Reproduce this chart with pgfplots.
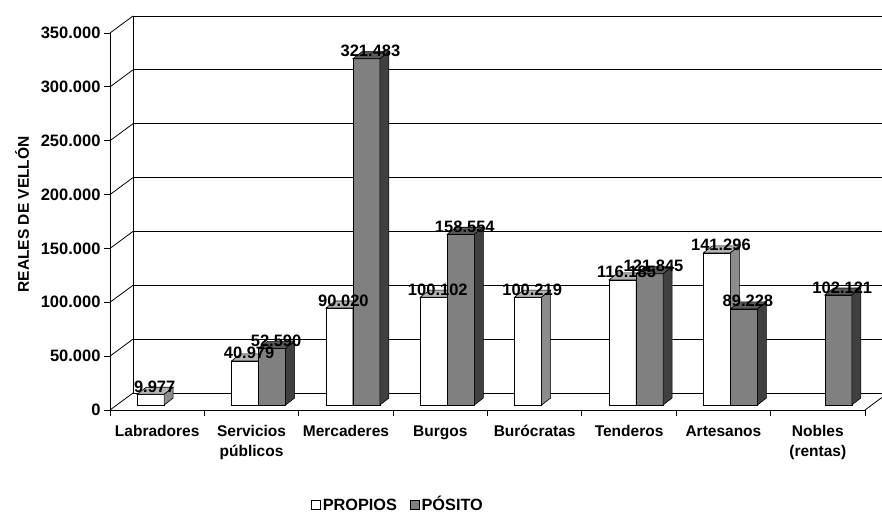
\documentclass[border=0pt]{standalone}
\usepackage{pgfplots}
\pgfplotsset{compat=1.18}
\usepackage{pgfplotstable}
\usepackage{fontspec}
\setmainfont{Liberation Sans}
\pgfdeclareplotmark{nomark}{}
\definecolor{wfront}{HTML}{FFFFFF}
\definecolor{wtop}{HTML}{B4B4B4}
\definecolor{wside}{HTML}{8C8C8C}
\definecolor{gfront}{HTML}{808080}
\definecolor{gtop}{HTML}{5A5A5A}
\definecolor{gside}{HTML}{404040}
\newcommand\lblfont{\fontsize{15.5}{19.5}\selectfont\bfseries}
\newcommand\numfont{\fontsize{16.5}{19}\selectfont\bfseries}
\newcommand\legfont{\fontsize{16.3}{19}\selectfont\bfseries}

\pgfplotstableread{
x v
0 9977
1 40979
2 90020
3 100102
4 100219
5 116185
6 141296
}\propios
\pgfplotstableread{
x v
1 52590
2 321483
3 158554
5 121845
6 89228
7 102121
}\posito

\pgfplotsset{
  bar3d/.style n args={4}{%
    scatter, only marks, mark=nomark, forget plot,
    point meta=explicit symbolic,
    scatter/@pre marker code/.code={%
      \edef\hh{\fpeval{(\pgfplotspointmeta)*377/350000}}%
      \filldraw[draw=black, line width=0.6pt, fill=#2] (#1pt, 5pt-\hh pt) rectangle (#1pt+27pt, 5pt);
      \filldraw[draw=black, line width=0.6pt, fill=#3] (#1pt,5pt) -- (#1pt+27pt,5pt) -- (#1pt+36pt,12pt) -- (#1pt+9pt,12pt) -- cycle;
      \filldraw[draw=black, line width=0.6pt, fill=#4] (#1pt+27pt,5pt) -- (#1pt+36pt,12pt) -- (#1pt+36pt,12pt-\hh pt) -- (#1pt+27pt,5pt-\hh pt) -- cycle;
    },
    scatter/@post marker code/.code={},
  },
  lbl3d/.style={%
    only marks, mark=nomark, forget plot,
    point meta=explicit,
    nodes near coords,
    every node near coord/.append style={anchor=base, font=\numfont, xshift=#1pt+17.5pt, yshift=7pt, inner sep=0pt},
  },
}

\begin{document}
\begin{tikzpicture}
\path[use as bounding box] (0,0) rectangle (882pt,515pt);
% back wall
\begin{axis}[
  at={(133pt,122pt)}, anchor=south west,
  scale only axis, width=755pt, height=377pt,
  xmin=-0.5, xmax=7.5, ymin=0, ymax=350000,
  xtick=\empty, ytick={0,50000,...,350000}, yticklabels={},
  scaled y ticks=false, scaled x ticks=false,
  major tick length=0pt,
  ymajorgrids, grid style={black, line width=0.8pt},
  axis line style={black, line width=0.8pt},
]
\addplot[draw=none] coordinates {(0,0)};
\end{axis}
% left wall and floor edges
\foreach \k in {0,...,7} \draw[line width=0.8pt] (110pt,105pt+\k*53.857pt) -- ++(23pt,17pt);
\draw[line width=0.8pt] (865pt,105pt) -- ++(23pt,17pt);
% front plane with bars
\begin{axis}[
  at={(110pt,105pt)}, anchor=south west,
  scale only axis, width=755pt, height=377pt,
  xmin=-0.5, xmax=7.5, ymin=0, ymax=350000,
  clip=false,
  axis x line*=bottom, axis y line*=left,
  axis line style={black, line width=0.8pt, -},
  tick style={black, line width=0.8pt},
  tick align=outside, major tick length=6pt,
  xtick={-0.5,0.5,...,7.5}, xticklabels={},
  extra x ticks={0,1,2,3,4,5,6,7},
  extra x tick labels={Labradores,{Servicios\\públicos},Mercaderes,Burgos,Burócratas,Tenderos,Artesanos,{Nobles\\(rentas)}},
  extra x tick style={major tick length=0pt, xticklabel style={align=center, font=\lblfont, yshift=-12pt}},
  ytick={0,50000,...,350000}, scaled y ticks=false,
  yticklabel style={font=\numfont},
  /pgf/number format/.cd, fixed, precision=0, 1000 sep={.}, assume math mode=true,
  /pgfplots/.cd,
  ylabel={REALES DE VELLÓN},
  every axis y label/.style={at={(axis description cs:-0.1166,0.519)}, rotate=90, anchor=center, font=\lblfont},
  legend columns=2,
  legend style={at={(axis description cs:0.3815,-0.252)}, anchor=center, draw=none, fill=none, font=\legfont,
    /tikz/every even column/.append style={column sep=10pt},
    nodes={inner xsep=2.5pt, inner ysep=0pt, text height=11.5pt, text depth=0.5pt}},
  legend image code/.code={\draw[#1, line width=0.6pt] (0pt,-4.5pt) rectangle (9pt,4.5pt);},
]
\addlegendimage{draw=black, fill=white}
\addlegendentry{PROPIOS}
\addlegendimage{draw=black, fill=gfront}
\addlegendentry{PÓSITO}
\addplot[bar3d={-20}{wfront}{wtop}{wside}] table[x=x, y=v, meta=v] {\propios};
\addplot[bar3d={7}{gfront}{gtop}{gside}] table[x=x, y=v, meta=v] {\posito};
\addplot[lbl3d={-20}] table[x=x, y=v, meta=v] {\propios};
\addplot[lbl3d={7}] table[x=x, y=v, meta=v] {\posito};
\end{axis}
\end{tikzpicture}
\end{document}
